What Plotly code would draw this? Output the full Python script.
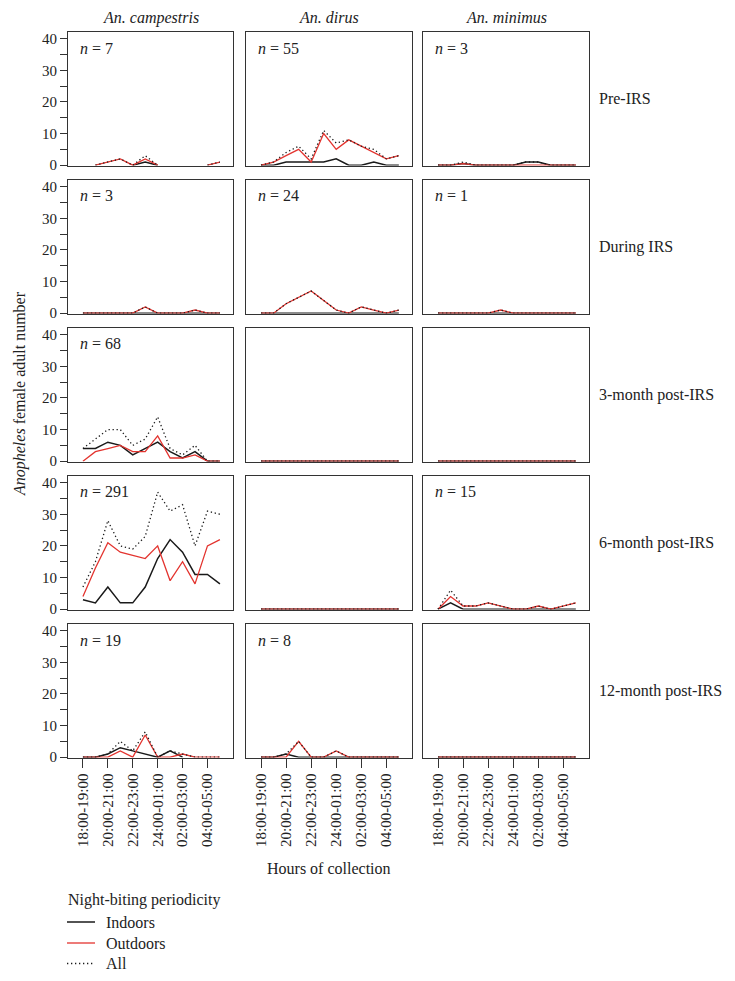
import plotly.graph_objects as go
from plotly.subplots import make_subplots

# Hours of collection (one point per hour, labels every 2 h)
hours = ["18:00-19:00", "19:00-20:00", "20:00-21:00", "21:00-22:00",
         "22:00-23:00", "23:00-24:00", "24:00-01:00", "01:00-02:00",
         "02:00-03:00", "03:00-04:00", "04:00-05:00", "05:00-06:00"]
tick_hours = ["18:00-19:00", "20:00-21:00", "22:00-23:00",
              "24:00-01:00", "02:00-03:00", "04:00-05:00"]

species = ["An. campestris", "An. dirus", "An. minimus"]
periods = ["Pre-IRS", "During IRS", "3-month post-IRS",
           "6-month post-IRS", "12-month post-IRS"]
n_values = [[7, 55, 3], [3, 24, 1], [68, None, None], [291, None, 15], [19, 8, None]]

flat = [0, 0, 0, 0, 0, 0, 0, 0, 0, 0, 0, 0]

# Pre-IRS
pre_camp_in = [None, None, None, None, 0, 1, 0, None, None, None, None, None]
pre_camp_out = [None, 0, 1, 2, 0, 2, 0, None, None, None, 0, 1]
pre_camp_all = [None, 0, 1, 2, 0, 3, 0, None, None, None, 0, 1]
pre_dirus_in = [0, 0, 1, 1, 1, 1, 2, 0, 0, 1, 0, 0]
pre_dirus_out = [0, 1, 3, 5, 1, 10, 5, 8, 6, 4, 2, 3]
pre_dirus_all = [0, 1, 4, 6, 2, 11, 7, 8, 6, 5, 2, 3]
pre_min_in = [0, 0, 0.5, 0, 0, 0, 0, 1, 1, 0, 0, 0]
pre_min_out = [0, 0, 0.5, 0, 0, 0, 0, 0, 0, 0, 0, 0]
pre_min_all = [0, 0, 1, 0, 0, 0, 0, 1, 1, 0, 0, 0]

# During IRS
dur_camp_in = [0, 0, 0, 0, 0, 0, 0, 0, 0, 0, 0, 0]
dur_camp_out = [0, 0, 0, 0, 0, 2, 0, 0, 0, 1, 0, 0]
dur_camp_all = [0, 0, 0, 0, 0, 2, 0, 0, 0, 1, 0, 0]
dur_dirus_in = [0, 0, 0, 0, 0, 0, 0, 0, 0, 0, 0, 0]
dur_dirus_out = [0, 0, 3, 5, 7, 4, 1, 0, 2, 1, 0, 1]
dur_dirus_all = [0, 0, 3, 5, 7, 4, 1, 0, 2, 1, 0, 1]
dur_min_in = [0, 0, 0, 0, 0, 0, 0, 0, 0, 0, 0, 0]
dur_min_out = [0, 0, 0, 0, 0, 1, 0, 0, 0, 0, 0, 0]
dur_min_all = [0, 0, 0, 0, 0, 1, 0, 0, 0, 0, 0, 0]

# 3-month post-IRS
m3_camp_in = [4, 4, 6, 5, 2, 4, 6, 3, 1, 3, 0, 0]
m3_camp_out = [0, 3, 4, 5, 3, 3, 8, 1, 1, 2, 0, 0]
m3_camp_all = [4, 7, 10, 10, 5, 7, 14, 4, 2, 5, 0, 0]

# 6-month post-IRS
m6_camp_in = [3, 2, 7, 2, 2, 7, 16, 22, 18, 11, 11, 8]
m6_camp_out = [4, 13, 21, 18, 17, 16, 20, 9, 15, 8, 20, 22]
m6_camp_all = [7, 15, 28, 20, 19, 23, 37, 31, 33, 20, 31, 30]
m6_min_in = [0, 2, 0, 0, 0, 0, 0, 0, 0, 0, 0, 0]
m6_min_out = [0, 4, 1, 1, 2, 1, 0, 0, 1, 0, 1, 2]
m6_min_all = [0, 6, 1, 1, 2, 1, 0, 0, 1, 0, 1, 2]

# 12-month post-IRS
m12_camp_in = [0, 0, 1, 3, 2, 1, 0, 2, 0, None, None, None]
m12_camp_out = [0, 0, 0, 2, 0, 7, 0, 0, 1, 0, 0, 0]
m12_camp_all = [0, 0, 1, 5, 2, 8, 0, 2, 1, 0, 0, 0]
m12_dirus_in = [0, 0, 1, 0, 0, 0, 0, 0, 0, 0, 0, 0]
m12_dirus_out = [0, 0, 0, 5, 0, 0, 2, 0, 0, 0, 0, 0]
m12_dirus_all = [0, 0, 1, 5, 0, 0, 2, 0, 0, 0, 0, 0]

panels = [
    [(pre_camp_in, pre_camp_out, pre_camp_all),
     (pre_dirus_in, pre_dirus_out, pre_dirus_all),
     (pre_min_in, pre_min_out, pre_min_all)],
    [(dur_camp_in, dur_camp_out, dur_camp_all),
     (dur_dirus_in, dur_dirus_out, dur_dirus_all),
     (dur_min_in, dur_min_out, dur_min_all)],
    [(m3_camp_in, m3_camp_out, m3_camp_all),
     (flat, flat, flat),
     (flat, flat, flat)],
    [(m6_camp_in, m6_camp_out, m6_camp_all),
     (flat, flat, flat),
     (m6_min_in, m6_min_out, m6_min_all)],
    [(m12_camp_in, m12_camp_out, m12_camp_all),
     (m12_dirus_in, m12_dirus_out, m12_dirus_all),
     (flat, flat, flat)],
]

# the page body has an 8px margin, so the figure is a bit smaller
OFF = 8
W, H = 735 - 2 * OFF, 981 - 2 * OFF
FONT = "Liberation Serif"
TXT = "#222"
RED = "#e3342f"
BLACK = "#1a1a1a"


def px(p):
    return (p - OFF) / W


def py(p):
    return 1 - (p - OFF) / H


# panel boxes in screen pixels
col_px = [(68, 233), (246, 412), (423, 589)]
row_px = [(32, 165.5), (180, 313.5), (328, 461.5), (476, 609.5), (624, 757.5)]

fig = make_subplots(rows=5, cols=3)

styles = [
    ("Indoors", dict(color=BLACK, width=1.5)),
    ("Outdoors", dict(color=RED, width=1.3)),
    ("All", dict(color=BLACK, width=1.3, dash="1.3px,2.7px")),
]

for r in range(5):
    for c in range(3):
        for k, (name, line) in enumerate(styles):
            fig.add_trace(go.Scatter(
                x=hours, y=panels[r][c][k], mode="lines", line=line,
                name=name, showlegend=False,
                hovertemplate=f"{species[c]} | {periods[r]}<br>%{{x}}: %{{y}}<extra>{name}</extra>"
            ), row=r + 1, col=c + 1)

for r in range(5):
    for c in range(3):
        idx = r * 3 + c + 1
        xa = "xaxis" if idx == 1 else f"xaxis{idx}"
        ya = "yaxis" if idx == 1 else f"yaxis{idx}"
        x0, x1 = col_px[c]
        y0, y1 = row_px[r]
        bottom = r == 4
        left = c == 0
        fig.layout[xa].update(
            domain=[px(x0), px(x1)], type="category", automargin=False,
            categoryorder="array", categoryarray=hours,
            range=[-1.2, 12.05], showgrid=False, zeroline=False,
            showline=True, mirror=True, linecolor="#333", linewidth=1.2,
            ticks="outside" if bottom else "", ticklen=9, tickcolor="#333",
            tickmode="array", tickvals=tick_hours, ticktext=tick_hours,
            showticklabels=bottom, tickangle=-90,
            tickfont=dict(family=FONT, size=15, color=TXT),
        )
        yax = dict(
            domain=[py(y1), py(y0)], range=[-0.1, 42.1], automargin=False,
            showgrid=False, zeroline=False,
            showline=True, mirror=True, linecolor="#333", linewidth=1.2,
            showticklabels=left,
            tickfont=dict(family=FONT, size=15, color=TXT),
        )
        if left:
            yax.update(ticks="outside", ticklen=7, tickcolor="#333",
                       tick0=0, dtick=10,
                       minor=dict(ticks="outside", ticklen=7, tickcolor="#333",
                                  tick0=0, dtick=5))
        else:
            yax.update(ticks="")
        fig.layout[ya].update(**yax)

annotations = []
# column titles
for c, sp in enumerate(species):
    annotations.append(dict(
        x=px((col_px[c][0] + col_px[c][1]) / 2), y=py(17.5),
        xref="paper", yref="paper", text=f"<i>{sp}</i>", showarrow=False,
        xanchor="center", yanchor="middle",
        font=dict(family=FONT, size=16, color=TXT)))
# row labels
for r, per in enumerate(periods):
    annotations.append(dict(
        x=px(597), y=py((row_px[r][0] + row_px[r][1]) / 2),
        xref="paper", yref="paper", text=per, showarrow=False,
        xanchor="left", yanchor="middle",
        font=dict(family=FONT, size=16, color=TXT)))
# n labels
for r in range(5):
    for c in range(3):
        n = n_values[r][c]
        if n is None:
            continue
        annotations.append(dict(
            x=px(col_px[c][0] + 10), y=py(row_px[r][0] + 16),
            xref="paper", yref="paper", text=f"<i>n</i> = {n}",
            showarrow=False, xanchor="left", yanchor="middle",
            font=dict(family=FONT, size=16, color=TXT)))
# axis titles
annotations.append(dict(
    x=px(20), y=py(394), xref="paper", yref="paper",
    text="<i>Anopheles</i> female adult number", textangle=-90,
    showarrow=False, xanchor="center", yanchor="middle",
    font=dict(family=FONT, size=16, color=TXT)))
annotations.append(dict(
    x=px(329), y=py(868), xref="paper", yref="paper",
    text="Hours of collection", showarrow=False,
    xanchor="center", yanchor="middle",
    font=dict(family=FONT, size=16, color=TXT)))

# legend drawn by hand below the panels
legend_title = "Night-biting periodicity"
legend_rows = [922, 943, 963.5]
annotations.append(dict(
    x=px(66), y=py(900), xref="paper", yref="paper", text=legend_title,
    showarrow=False, xanchor="left", yanchor="middle",
    font=dict(family=FONT, size=16, color=TXT)))
shapes = []
for (name, line), ly in zip(styles, legend_rows):
    shapes.append(dict(type="line", xref="paper", yref="paper",
                       x0=px(67), x1=px(95), y0=py(ly), y1=py(ly), line=line))
    annotations.append(dict(
        x=px(105), y=py(ly), xref="paper", yref="paper", text=name,
        showarrow=False, xanchor="left", yanchor="middle", borderpad=0,
        font=dict(family=FONT, size=16, color=TXT)))

fig.update_layout(
    width=W, height=H,
    margin=dict(l=0, r=0, t=0, b=0, autoexpand=False),
    paper_bgcolor="white", plot_bgcolor="white",
    annotations=annotations, shapes=shapes,
    showlegend=False,
)

fig.write_html("out.html")
